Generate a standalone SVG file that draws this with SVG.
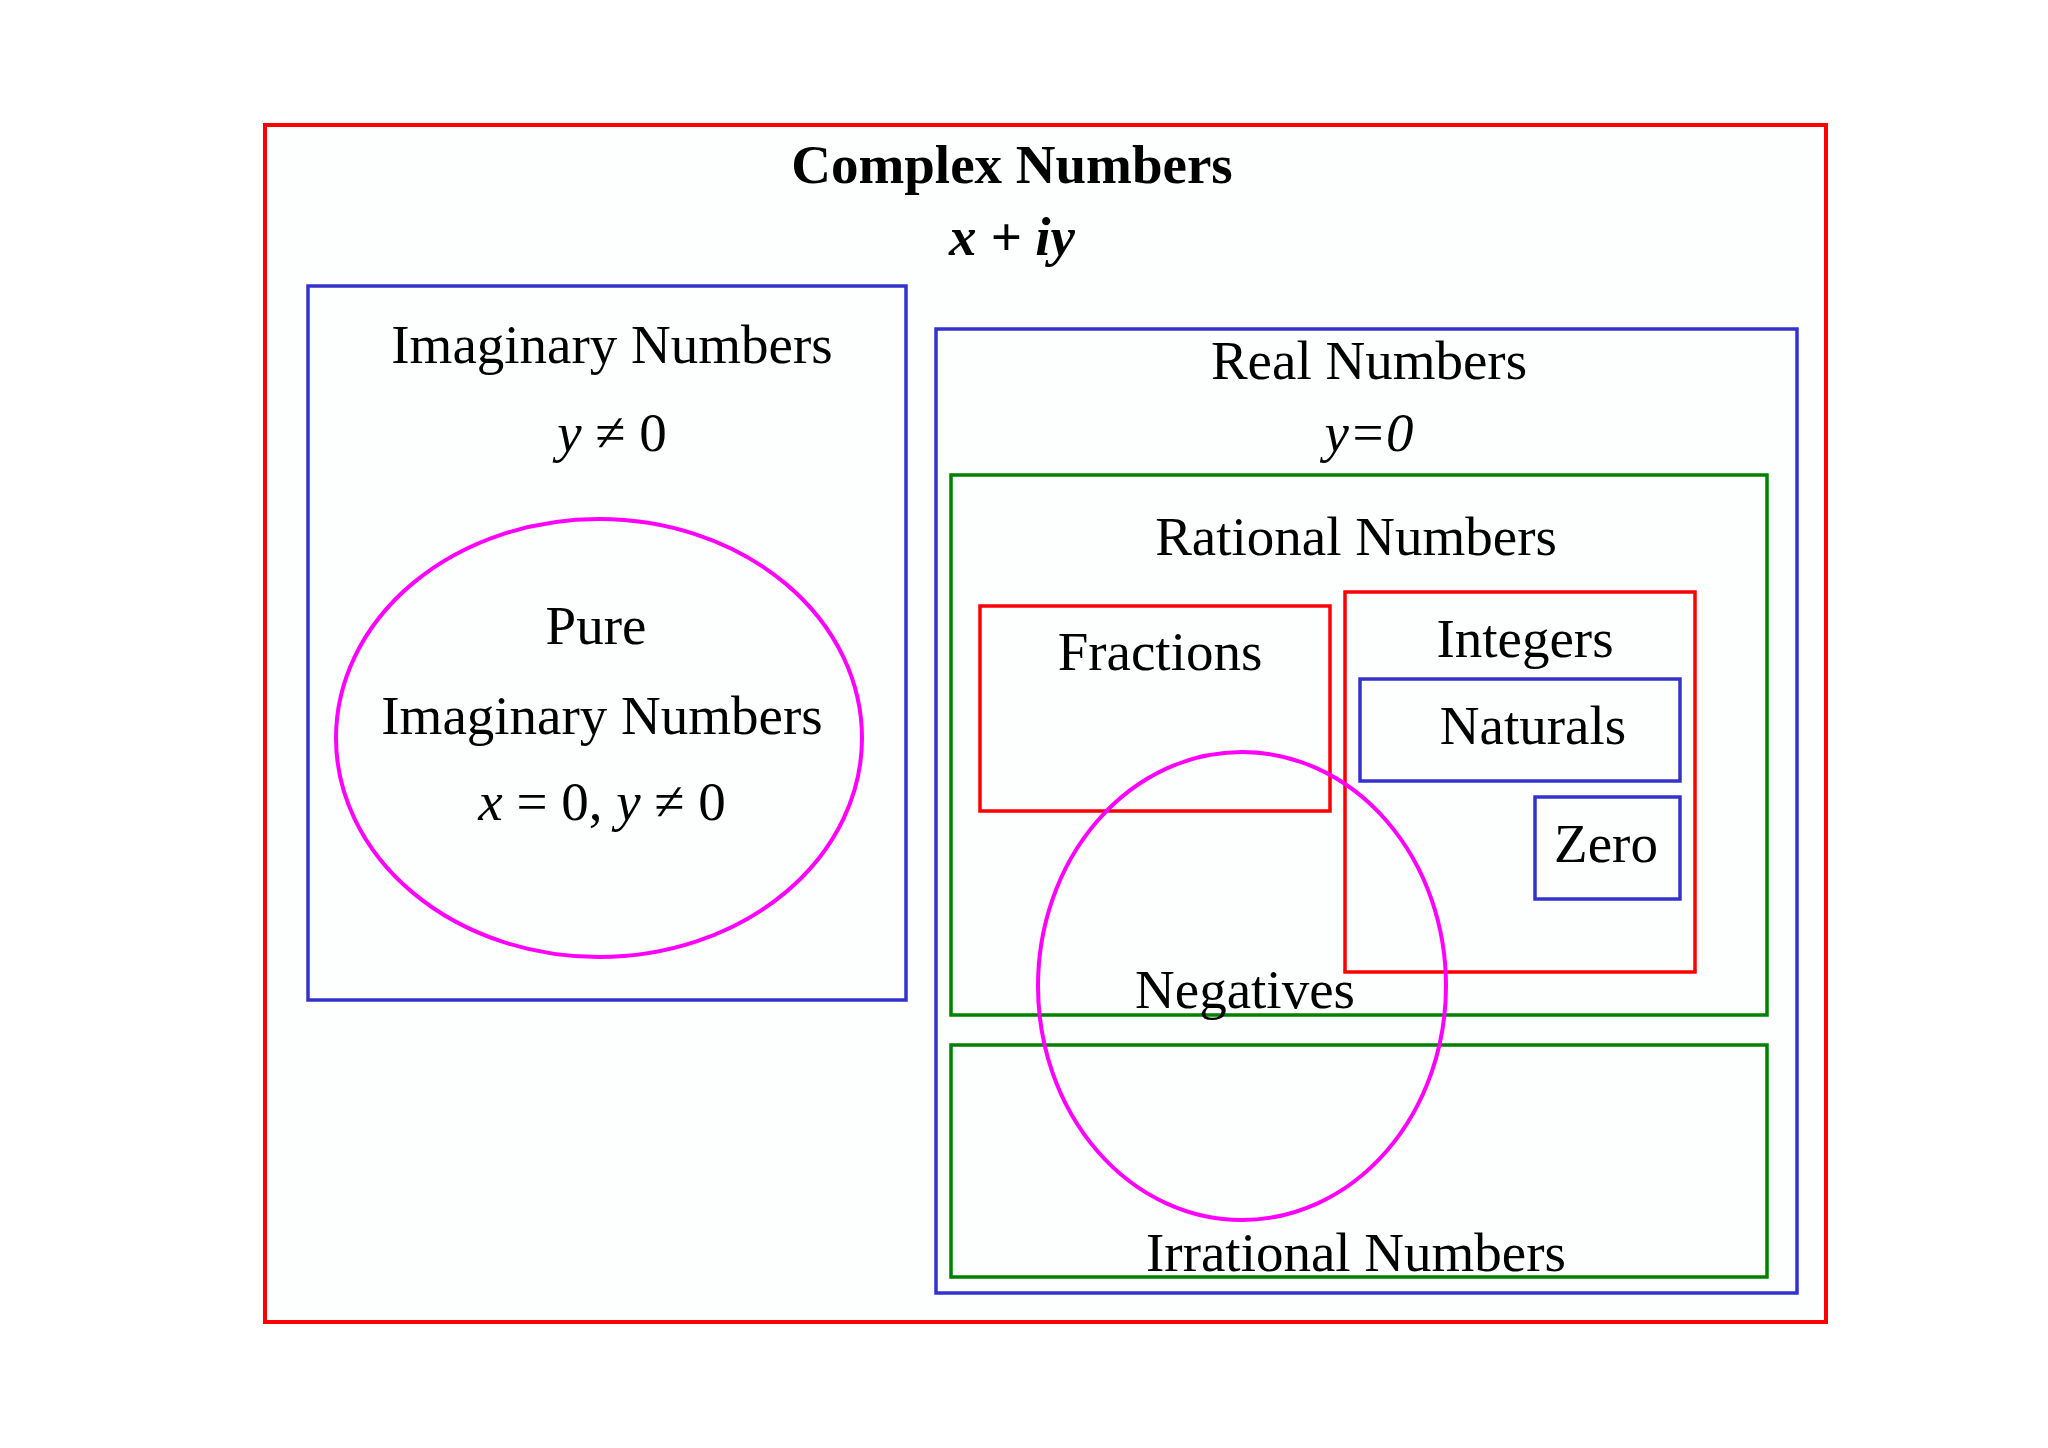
<svg xmlns="http://www.w3.org/2000/svg" width="2048" height="1448" viewBox="0 0 2048 1448">
<style>
text{font-family:"Liberation Serif","Times New Roman",serif;font-size:55px;text-anchor:middle;fill:#000}
.r{fill:#fdfefe;stroke:#ff0000;stroke-width:4}
.b{fill:none;stroke:#3333cc;stroke-width:3.5}
.g{fill:none;stroke:#008000;stroke-width:3.5}
.rr{fill:none;stroke:#ff0000;stroke-width:3.5}
.m{fill:none;stroke:#ff00ff;stroke-width:4}
</style>
<rect width="2048" height="1448" fill="#fff"/>
<g id="complex"><rect class="r" x="265" y="125" width="1561" height="1197"/>
<text x="1012" y="183" font-weight="bold">Complex Numbers</text>
<text x="1012" y="255" font-weight="bold" font-style="italic">x + iy</text></g>
<g id="imaginary"><rect class="b" x="308" y="286" width="598" height="714"/>
<text x="612" y="363">Imaginary Numbers</text>
<text x="612" y="451"><tspan font-style="italic">y</tspan> ≠ 0</text></g>
<g id="pure"><ellipse class="m" cx="599" cy="738" rx="263" ry="219"/>
<text x="596" y="644">Pure</text>
<text x="602" y="734">Imaginary Numbers</text>
<text x="602" y="820"><tspan font-style="italic">x</tspan> = 0, <tspan font-style="italic">y</tspan> ≠ 0</text></g>
<g id="real"><rect class="b" x="936" y="329" width="861" height="964"/>
<text x="1369" y="379">Real Numbers</text>
<text x="1369" y="451" font-style="italic">y=0</text></g>
<g id="rational"><rect class="g" x="951" y="475" width="816" height="540"/>
<text x="1356" y="555">Rational Numbers</text></g>
<g id="fractions"><rect class="rr" x="980" y="606" width="350" height="205"/>
<text x="1160" y="670">Fractions</text></g>
<g id="integers"><rect class="rr" x="1345" y="592" width="350" height="380"/>
<text x="1525" y="657">Integers</text></g>
<g id="naturals"><rect class="b" x="1360" y="679" width="320" height="102"/>
<text x="1533" y="744">Naturals</text></g>
<g id="zero"><rect class="b" x="1535" y="797" width="145" height="102"/>
<text x="1606" y="862">Zero</text></g>
<g id="irrational"><rect class="g" x="951" y="1045" width="816" height="232"/>
<text x="1356" y="1271">Irrational Numbers</text></g>
<g id="negatives"><ellipse class="m" cx="1242" cy="986" rx="204" ry="234"/>
<text x="1245" y="1008">Negatives</text></g>
<g id="connectors"/>
</svg>
